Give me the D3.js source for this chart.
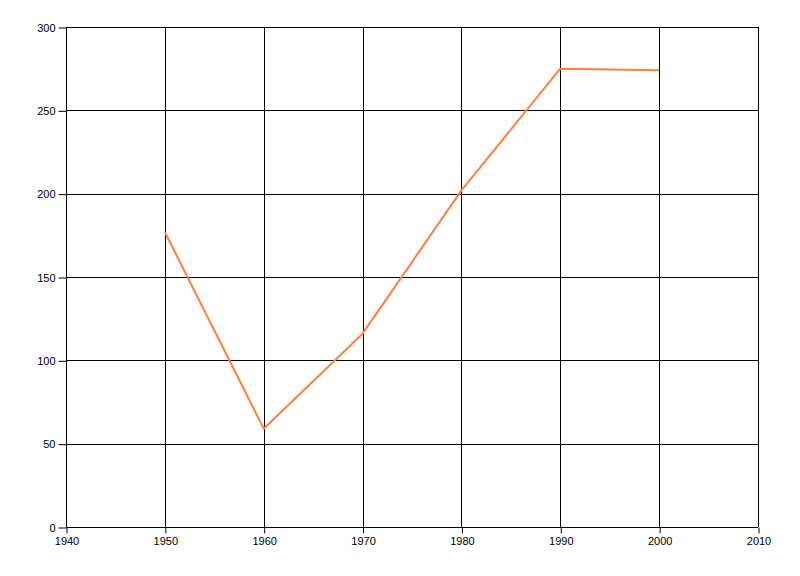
<!DOCTYPE html>
<html><head><meta charset="utf-8">
<script src="https://cdn.jsdelivr.net/npm/d3@7"></script>
<style>body{margin:0;background:#fff}svg{display:block}</style>
</head><body>
<svg id="c" width="800" height="576"></svg>
<script>
const years = [1950, 1960, 1970, 1980, 1990, 2000];
const values = [177, 59, 116, 202, 275, 274];
const xTicks = [1940, 1950, 1960, 1970, 1980, 1990, 2000, 2010];
const yTicks = [0, 50, 100, 150, 200, 250, 300];

const svg = d3.select("#c");
const L = 66, R = 758, T = 27, B = 527;
const x = d3.scaleLinear().domain([1940, 2010]).range([L, R]);
const y = d3.scaleLinear().domain([0, 300]).range([B, T]);

const g = svg.append("g");
g.selectAll("line.vg").data(xTicks).join("line")
  .attr("x1", d => Math.round(x(d)) + 0.5).attr("x2", d => Math.round(x(d)) + 0.5)
  .attr("y1", T).attr("y2", B).attr("stroke", "#000").attr("stroke-width", 1);
g.selectAll("line.hg").data(yTicks).join("line")
  .attr("y1", d => Math.round(y(d)) + 0.5).attr("y2", d => Math.round(y(d)) + 0.5)
  .attr("x1", L).attr("x2", R).attr("stroke", "#000").attr("stroke-width", 1);

const xAxis = svg.append("g").attr("transform", `translate(0.5,${B + 0.5})`)
  .call(d3.axisBottom(x).tickValues(xTicks).tickFormat(d3.format("d")).tickSize(6).tickSizeOuter(0));
const yAxis = svg.append("g").attr("transform", `translate(${L + 0.5},0.5)`)
  .call(d3.axisLeft(y).tickValues(yTicks).tickSize(8).tickSizeOuter(0));
[xAxis, yAxis].forEach(a => {
  a.select(".domain").remove();
  a.selectAll("line").attr("stroke", "#000");
  a.selectAll("text").attr("fill", "#000").style("font-family", "'Liberation Sans', Arial, sans-serif").style("font-size", "11px");
});
xAxis.selectAll("text").attr("dy", "0.71em").attr("y", 10);
yAxis.selectAll("text").attr("x", -11);

const line = d3.line().x((d, i) => x(years[i])).y(d => y(d));
svg.append("path").datum(values).attr("d", line)
  .attr("fill", "none").attr("stroke", "#ff7f40").attr("stroke-width", 2).attr("stroke-linejoin", "round");
</script>
</body></html>
